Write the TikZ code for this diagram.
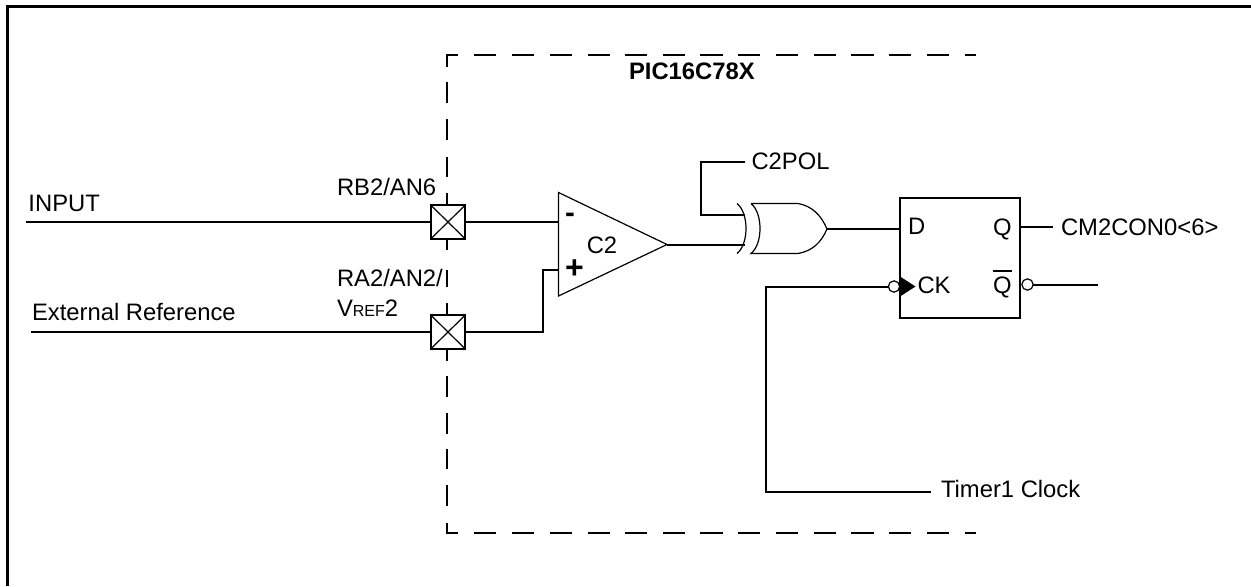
\documentclass[tikz,border=0pt]{standalone}
\usepackage{fontspec}
\setmainfont{Liberation Sans}
\newcommand{\lblfont}{\fontsize{17.85}{20}\selectfont}
\tikzset{
  wire/.style={line width=1.5pt, line cap=butt, line join=miter},
  thinline/.style={line width=0.9pt, line join=miter},
  framel/.style={line width=2.25pt},
  lbl/.style={anchor=base west, inner sep=0pt, outer sep=0pt, font=\lblfont},
  padbox/.style={draw, line width=1.5pt, minimum width=26pt, minimum height=25.5pt, inner sep=0pt, outer sep=0pt},
  bubble/.style={draw, circle, line width=0.9pt, minimum size=8.5pt, inner sep=0pt, outer sep=0pt},
  ffbox/.style={draw, line width=1.5pt, minimum width=90pt, minimum height=89.5pt, inner sep=0pt, outer sep=0pt}
}
\begin{document}
\begin{tikzpicture}[x=0.75pt,y=-0.75pt]
\useasboundingbox (0,0) rectangle (1251,586);
% outer frame: top and left only
\draw[framel] (1251,6.5) -- (7.5,6.5) -- (7.5,586);
% dashed boundary
\draw[wire] (458,54.5) -- (447,54.5) -- (447,67);
\draw[wire] (458,533) -- (447,533) -- (447,523);
\foreach \a/\b in {82/103,119/140,157/177,193/205,240/250,270/287,303/314,349/361,376/397,413/434,449/469,485/506}
  \draw[wire] (447,\a) -- (447,\b);
\foreach \a/\b in {474/496,512/534,550/572,588/610,625/647,663/685,700/723,738/760,776/798,814/836,851/874,889/911,927/949,965/976}{
  \draw[wire] (\a,54.5) -- (\b,54.5);
  \draw[wire] (\a,533) -- (\b,533);
}
\node[lbl,font=\lblfont\bfseries] (chip) at (629,79) {PIC16C78X};
% pads
\node[padbox] (padA) at (448,222) {};
\node[padbox] (padB) at (448,332) {};
\draw[thinline] (padA.north west) -- (padA.south east) (padA.north east) -- (padA.south west);
\draw[thinline] (padB.north west) -- (padB.south east) (padB.north east) -- (padB.south west);
% labels left
\node[lbl] (inp) at (28.5,211) {INPUT};
\node[lbl] (ext) at (32,320) {External Reference};
\node[lbl] (rb) at (337,195.5) {RB2/AN6};
\node[lbl] (ra) at (337,286.5) {RA2/AN2/};
\node[lbl] (vr) at (337,316) {V{\fontsize{12}{14}\selectfont REF}2};
\coordinate (inStart) at (26,222);
\coordinate (extStart) at (31,332);
% comparator
\coordinate (cmpTop) at (558.5,192.5);
\coordinate (cmpBot) at (558.5,296);
\coordinate (cmpTip) at (667,244.5);
\coordinate (cmpM) at (558.5,222);
\coordinate (cmpP) at (558.5,269.5);
\draw[thinline] (cmpTop) -- (cmpTip) -- (cmpBot) -- cycle;
\node[inner sep=0pt,font=\fontsize{22}{24}\selectfont\bfseries] (minus) at (570,218) {-};
\node[inner sep=0pt,font=\fontsize{24}{26}\selectfont\bfseries] (plus) at (574.5,269.5) {+};
\node[inner sep=0pt,font=\lblfont] (cmpName) at (602,245.5) {C2};
\draw[wire] (inStart) -- (padA);
\draw[wire] (extStart) -- (padB);
\draw[wire] (padA) -- (cmpM);
\draw[wire] (padB) -| (542.5,269.5) -- (cmpP);
% XOR gate
\coordinate (xA) at (737,203.5);
\coordinate (xB) at (737,253.5);
\coordinate (xC) at (751,203.5);
\coordinate (xD) at (751,253.5);
\coordinate (xTip) at (827,229);
\coordinate (xIn1) at (745,214.5);
\coordinate (xIn2) at (745,244.5);
\draw[thinline] (xA) .. controls (749,213) and (749,244) .. (xB);
\draw[thinline] (xC) .. controls (763,213) and (763,244) .. (xD) -- (798,253.5)
  .. controls (812,251) and (821,243) .. (xTip)
  .. controls (821,215) and (812,206) .. (798,203.5) -- (xC);
\coordinate (polEnd) at (745,161.5);
\node[lbl] (pol) at (751.5,169) {C2POL};
\draw[wire] (polEnd) -- (701,161.5) |- (xIn1);
\draw[wire] (cmpTip) -- (xIn2);
% flip-flop
\node[ffbox] (ff) at (960,258) {};
\node[lbl] (d) at (908,234) {D};
\node[lbl] (q) at (993,235) {Q};
\node[lbl] (qb) at (993,293) {Q};
\draw[line width=1pt] ([yshift=4pt]qb.north west) -- ([yshift=4pt]qb.north east);
\node[lbl] (ck) at (917.5,293) {CK};
\fill (900,276.5) -- (915.5,286.5) -- (900,296.5) -- cycle;
\node[bubble] (ckb) at (894,286.5) {};
\node[bubble] (qbb) at (1027.5,284.5) {};
\draw[wire] (xTip) -- (ff.west |- xTip);
\coordinate (qEnd) at (1053,227);
\coordinate (qbEnd) at (1097.5,284.5);
\coordinate (tmEnd) at (931,492);
\node[lbl] (cm) at (1061,235.5) {CM2CON0<6>};
\node[lbl] (tm) at (941,497) {Timer1 Clock};
\draw[wire] (ff.east |- qEnd) -- (qEnd);
\draw[wire] (qbb) -- (qbEnd);
\draw[wire] (ckb.west) -- (765.5,286.5) |- (tmEnd);
\end{tikzpicture}
\end{document}
